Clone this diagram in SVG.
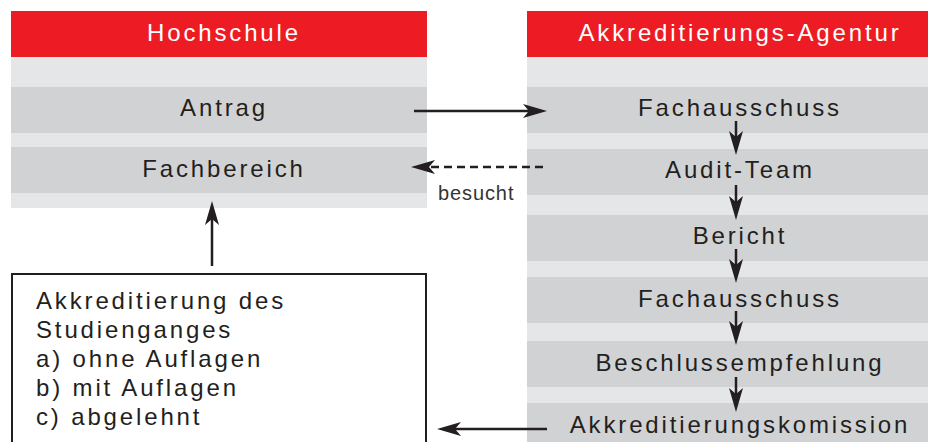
<svg xmlns="http://www.w3.org/2000/svg" width="928" height="442" viewBox="0 0 928 442">
<style>
.hdr{fill:#ED1C24}
.bg{fill:#E5E6E8}
.band{fill:#D1D2D4}
.t{font-family:"Liberation Sans",Arial,sans-serif;font-size:24px;letter-spacing:2.85px;fill:#231F20}
.m{text-anchor:middle}
.w{fill:#FFFFFF}
.ln{stroke:#231F20;stroke-width:2.5;fill:none}
.sm{font-family:"Liberation Sans",Arial,sans-serif;font-size:20px;letter-spacing:0.9px;fill:#333333}
</style>
<defs>
<marker id="ah" viewBox="0 0 24 14" refX="16" refY="7" markerWidth="24" markerHeight="14" markerUnits="userSpaceOnUse" orient="auto">
<path d="M0,0 L24,7 L0,14 L6,7 Z" fill="#231F20"/>
</marker>
</defs>
<rect width="928" height="442" fill="#FFFFFF"/>
<g id="hochschule">
<rect class="hdr" x="11" y="11" width="416" height="46"/>
<rect class="bg" x="11" y="57" width="416" height="151"/>
<text class="t m w" x="224" y="41">Hochschule</text>
</g>
<g id="antrag">
<rect class="band" x="11" y="87" width="416" height="46"/>
<text class="t m" x="224" y="116">Antrag</text>
</g>
<g id="fachbereich">
<rect class="band" x="11" y="147" width="416" height="46"/>
<text class="t m" x="224" y="177">Fachbereich</text>
</g>
<g id="agentur">
<rect class="hdr" x="527" y="11" width="401" height="46"/>
<rect class="bg" x="527" y="57" width="401" height="385"/>
<text class="t m w" x="740" y="41">Akkreditierungs-Agentur</text>
</g>
<g id="fachausschuss1">
<rect class="band" x="527" y="87" width="401" height="46"/>
<text class="t m" x="740" y="116">Fachausschuss</text>
</g>
<g id="auditteam">
<rect class="band" x="527" y="149" width="401" height="46"/>
<text class="t m" x="740" y="178">Audit-Team</text>
</g>
<g id="bericht">
<rect class="band" x="527" y="215" width="401" height="46"/>
<text class="t m" x="740" y="244">Bericht</text>
</g>
<g id="fachausschuss2">
<rect class="band" x="527" y="277" width="401" height="46"/>
<text class="t m" x="740" y="307">Fachausschuss</text>
</g>
<g id="beschlussempfehlung">
<rect class="band" x="527" y="341" width="401" height="46"/>
<text class="t m" x="740" y="371">Beschlussempfehlung</text>
</g>
<g id="akkreditierungskomission">
<rect class="band" x="527" y="403" width="401" height="39"/>
<text class="t m" x="740" y="433">Akkreditierungskomission</text>
</g>
<g id="ergebnis">
<rect x="12" y="274" width="414" height="180" fill="#FFFFFF" stroke="#231F20" stroke-width="2"/>
<text class="t" x="36" y="309">Akkreditierung des</text>
<text class="t" x="36" y="338">Studienganges</text>
<text class="t" x="36" y="367">a) ohne Auflagen</text>
<text class="t" x="36" y="396">b) mit Auflagen</text>
<text class="t" x="36" y="425">c) abgelehnt</text>
</g>
<g id="connectors">
<line class="ln" x1="414" y1="111" x2="539" y2="111" marker-end="url(#ah)"/>
<line class="ln" x1="543" y1="167" x2="419" y2="167" stroke-dasharray="8,5" marker-end="url(#ah)"/>
<text class="sm" x="438" y="200">besucht</text>
<line class="ln" x1="212" y1="266" x2="212" y2="209" marker-end="url(#ah)"/>
<line class="ln" x1="736" y1="121" x2="736" y2="147" marker-end="url(#ah)"/>
<line class="ln" x1="736" y1="185" x2="736" y2="212" marker-end="url(#ah)"/>
<line class="ln" x1="736" y1="249" x2="736" y2="275" marker-end="url(#ah)"/>
<line class="ln" x1="736" y1="311" x2="736" y2="337" marker-end="url(#ah)"/>
<line class="ln" x1="736" y1="377" x2="736" y2="404" marker-end="url(#ah)"/>
<line class="ln" x1="547" y1="429" x2="445" y2="429" marker-end="url(#ah)"/>
</g>
</svg>
